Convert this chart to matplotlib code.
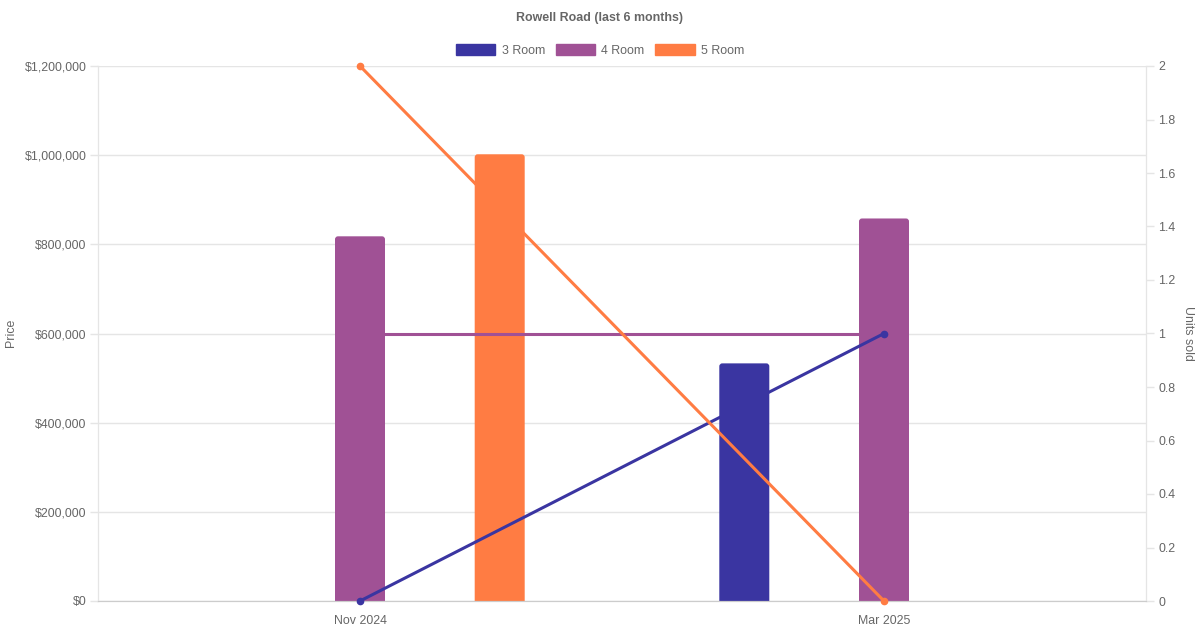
import numpy as np
import matplotlib
matplotlib.use("Agg")
import matplotlib.pyplot as plt
from matplotlib.patches import Patch, FancyBboxPatch
from matplotlib.ticker import FuncFormatter, MultipleLocator

plt.rcParams['font.family'] = ['Liberation Sans', 'DejaVu Sans']

categories = ["Nov 2024", "Mar 2025"]
series = ["3 Room", "4 Room", "5 Room"]
colors = ["#3a35a1", "#a05195", "#ff7c43"]
price_3 = [np.nan, 533000]
price_4 = [818000, 858000]
price_5 = [1002000, np.nan]
units_3 = [0, 1]
units_4 = [1, 1]
units_5 = [2, 0]

prices = [price_3, price_4, price_5]
units = [units_3, units_4, units_5]
line_z = [4, 3, 5]  # stacking of the unit lines as seen in the reference

W, H = 1200, 630
fig = plt.figure(figsize=(W / 100, H / 100), dpi=100)
L, R, T, B = 98, 1146, 66, 601
ax = fig.add_axes([L / W, 1 - B / H, (R - L) / W, (B - T) / H])
ax2 = ax.twinx()

tc = "#666666"
gc = "#e5e5e5"
fs = 8.9

ax.set_xlim(-0.5, len(categories) - 0.5)
ax.set_ylim(0, 1200000)

x = np.arange(len(categories))
cat_px = (R - L) / len(categories)
offset = 139.7 / cat_px
bw = 50 / cat_px
xu = 2.0 / (R - L)
yu = 1200000 / (B - T)
rad_px = 3
for i, (vals, c) in enumerate(zip(prices, colors)):
    bars = ax.bar(x + (i - 1) * offset, vals, width=bw, color=c, zorder=2)
    for b in bars:
        h = b.get_height()
        if not np.isfinite(h) or h <= 0:
            continue
        b.set_visible(False)
        x0 = b.get_x()
        p = FancyBboxPatch((x0 + rad_px * xu, -rad_px * 4 * yu),
                           bw - 2 * rad_px * xu, h + rad_px * 4 * yu - rad_px * yu,
                           boxstyle=f"round,pad={rad_px * xu},rounding_size={rad_px * xu}",
                           mutation_aspect=yu / xu, facecolor=c, edgecolor='none',
                           zorder=2)
        ax.add_patch(p)

for vals, c, z in zip(units, colors, line_z):
    ax2.plot(x, vals, color=c, lw=2.2, marker='o', ms=4.5, zorder=z,
             solid_capstyle='round', clip_on=False)

ax.yaxis.set_major_locator(MultipleLocator(200000))
ax.yaxis.set_major_formatter(FuncFormatter(lambda v, p: f"${v:,.0f}"))
ax2.set_ylim(0, 2)
ax2.yaxis.set_major_locator(MultipleLocator(0.2))
ax2.yaxis.set_major_formatter(FuncFormatter(lambda v, p: f"{v:.1f}".rstrip('0').rstrip('.') if v else "0"))

ax.set_xticks(x)
ax.set_xticklabels(categories)
ax.grid(axis='y', color=gc, lw=1, zorder=0)
ax.set_axisbelow(True)

for a in (ax, ax2):
    a.spines['top'].set_visible(False)
    a.spines['left'].set_color(gc)
    a.spines['right'].set_color(gc)
    a.spines['bottom'].set_color("#cccccc")
    a.tick_params(colors=tc, labelsize=fs)
ax.tick_params(axis='y', length=5.8, width=1, color=gc, pad=2.5)
ax.tick_params(axis='x', length=0, pad=10)
ax2.tick_params(axis='y', length=5.8, width=1, color=gc, pad=3)

fig.text(11 / W, 1 - 333 / H, "Price", rotation=90, ha='center', va='center',
         color=tc, fontsize=fs)
fig.text(1188 / W, 1 - 333 / H, "Units sold", rotation=270, ha='center', va='center',
         color=tc, fontsize=fs)
fig.text(0.5, 1 - 17.5 / H, "Rowell Road (last 6 months)", ha='center', va='center',
         color=tc, fontsize=fs, fontweight='bold')

handles = [Patch(facecolor=c, edgecolor=c, label=s) for s, c in zip(series, colors)]
fig.legend(handles=handles, loc='center', bbox_to_anchor=(0.5, 1 - 50.5 / H), ncol=3,
           frameon=False, fontsize=fs, labelcolor=tc, handlelength=3.2,
           handleheight=1.0, handletextpad=0.5, columnspacing=0.85, borderpad=0)

fig.savefig("out.png", dpi=100)
